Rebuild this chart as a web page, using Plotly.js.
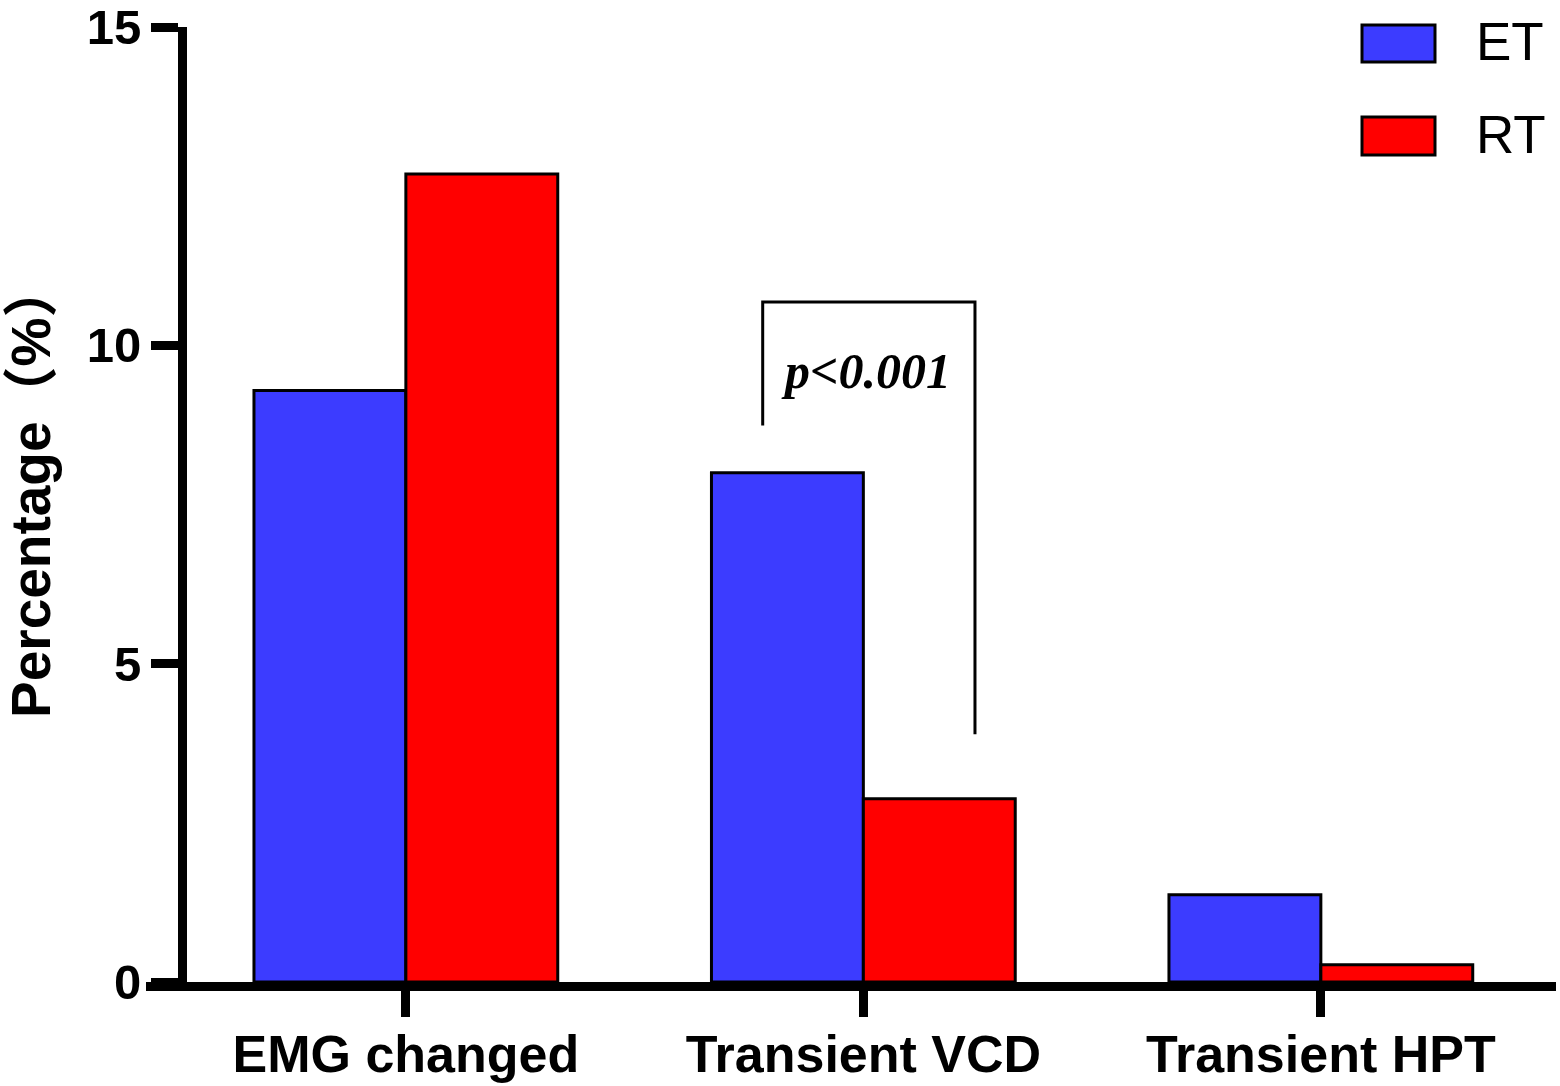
<!DOCTYPE html>
<html>
<head>
<meta charset="utf-8">
<script src="https://cdn.plot.ly/plotly-3.0.1.min.js"></script>
<style>html,body{margin:0;padding:0;background:#fff;}#chart{width:1560px;height:1086px;}</style>
</head>
<body>
<div id="chart"></div>
<script>
// ---- data ----
const categories = ["EMG changed", "Transient VCD", "Transient HPT"];
const seriesNames = ["ET", "RT"];
const etValues = [9.29, 8.0, 1.37];
const rtValues = [12.69, 2.88, 0.27];
const yTickValues = [0, 5, 10, 15];
const yTickLabels = ["0", "5", "10", "15"];
const yTitle = "Percentage（%）";
const pLabel = "p<0.001";
const bracketX = [0.78, 1.244];      // category-index positions of bracket legs
const bracketY = [8.74, 10.68, 3.89]; // left leg bottom, top, right leg bottom

const colors = ["#3c3cff", "#ff0000"];

// ---- layout helpers (pixel -> paper) ----
const W = 1560, H = 1086;
const mL = 146, mR = 4, mT = 27, mB = 104;
const pw = W - mL - mR, ph = H - mT - mB;
const px = x => (x - mL) / pw;
const py = y => (H - mB - y) / ph;

const font = "Arial, 'Liberation Sans', 'Noto Sans CJK SC', sans-serif";

const traces = [
  {type: "bar", name: seriesNames[0], x: categories, y: etValues,
   marker: {color: colors[0], line: {color: "#000", width: 3}}, hoverinfo: "skip"},
  {type: "bar", name: seriesNames[1], x: categories, y: rtValues,
   marker: {color: colors[1], line: {color: "#000", width: 3}}, hoverinfo: "skip"}
];

const shapes = [
  {type: "path", xref: "x", yref: "y",
   path: `M ${bracketX[0]},${bracketY[0]} L ${bracketX[0]},${bracketY[1]} L ${bracketX[1]},${bracketY[1]} L ${bracketX[1]},${bracketY[2]}`,
   line: {color: "#000", width: 3}},
  // legend swatches
  {type: "rect", xref: "paper", yref: "paper", x0: px(1362), x1: px(1435), y0: py(62), y1: py(25),
   fillcolor: colors[0], line: {color: "#000", width: 3}},
  {type: "rect", xref: "paper", yref: "paper", x0: px(1362), x1: px(1435), y0: py(155), y1: py(117),
   fillcolor: colors[1], line: {color: "#000", width: 3}}
];

const annotations = [
  {xref: "x", yref: "y", x: (bracketX[0] + bracketX[1]) / 2, y: 9.6, xshift: -3, text: pLabel, showarrow: false,
   font: {family: "'Times New Roman', 'Liberation Serif', serif", size: 50, color: "#000", weight: "bold", style: "italic"}},
  {xref: "paper", yref: "paper", x: px(1474), y: py(42), xanchor: "left", yanchor: "middle",
   text: seriesNames[0], showarrow: false, font: {family: font, size: 53, color: "#000"}},
  {xref: "paper", yref: "paper", x: px(1474), y: py(135), xanchor: "left", yanchor: "middle",
   text: seriesNames[1], showarrow: false, font: {family: font, size: 53, color: "#000"}},
  // y-axis title
  {xref: "paper", yref: "paper", x: px(31), y: py(491), xanchor: "center", yanchor: "middle",
   textangle: -90, text: yTitle, showarrow: false,
   font: {family: font, size: 55, color: "#000", weight: "bold"}}
];

const layout = {
  width: W, height: H,
  margin: {l: mL, r: mR, t: mT, b: mB, pad: 0},
  paper_bgcolor: "#fff", plot_bgcolor: "#fff",
  showlegend: false,
  barmode: "group", bargap: 0.336, bargroupgap: 0,
  xaxis: {
    type: "category", range: [-0.568, 2.514], fixedrange: true,
    showline: true, linecolor: "#000", linewidth: 9,
    ticks: "outside", ticklen: 26, tickwidth: 9, tickcolor: "#000",
    showgrid: false, zeroline: false,
    ticklabeloverflow: "allow", ticklabelstandoff: -7,
    tickfont: {family: font, size: 52, color: "#000", weight: "bold"}
  },
  yaxis: {
    range: [0, 15], fixedrange: true,
    anchor: "free", position: px(182),
    showline: true, linecolor: "#000", linewidth: 9,
    ticks: "outside", ticklen: 27, tickwidth: 9, tickcolor: "#000",
    tickmode: "array", tickvals: yTickValues, ticktext: yTickLabels,
    showgrid: false, zeroline: false,
    ticklabeloverflow: "allow",
    tickfont: {family: font, size: 49, color: "#000", weight: "bold"}
  },
  shapes: shapes,
  annotations: annotations
};

Plotly.newPlot("chart", traces, layout, {staticPlot: true, displayModeBar: false});
</script>
</body>
</html>
